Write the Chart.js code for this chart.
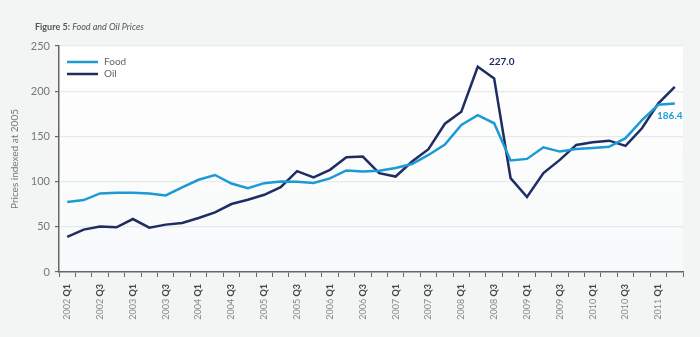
<!DOCTYPE html>
<html>
<head>
<meta charset="utf-8">
<script src="https://cdn.jsdelivr.net/npm/chart.js@4.4.0/dist/chart.umd.min.js"></script>
<style>
html, body { margin: 0; padding: 0; background: #f3f4f4; }
</style>
</head>
<body>
<canvas id="grafico" width="700" height="337"></canvas>
<script>
// Dados (índice 2005 = 100)
const trimestres = [
    '2002 Q1', '2002 Q2', '2002 Q3', '2002 Q4',
    '2003 Q1', '2003 Q2', '2003 Q3', '2003 Q4',
    '2004 Q1', '2004 Q2', '2004 Q3', '2004 Q4',
    '2005 Q1', '2005 Q2', '2005 Q3', '2005 Q4',
    '2006 Q1', '2006 Q2', '2006 Q3', '2006 Q4',
    '2007 Q1', '2007 Q2', '2007 Q3', '2007 Q4',
    '2008 Q1', '2008 Q2', '2008 Q3', '2008 Q4',
    '2009 Q1', '2009 Q2', '2009 Q3', '2009 Q4',
    '2010 Q1', '2010 Q2', '2010 Q3', '2010 Q4',
    '2011 Q1', '2011 Q2'
];
const food = [
    77.4, 79.6, 86.9, 87.6, 87.6, 86.9, 84.7, 93.5,
    102, 107.3, 97.9, 92.8, 98.3, 100.1, 99.8, 98.5,
    103.5, 112.3, 111.2, 112, 115, 119.5, 129.5, 141,
    162.6, 173.5, 164.5, 123.3, 125.1, 138, 133.2, 136,
    137.3, 138.5, 148, 168, 185, 186.4
];
const oil = [
    38.8, 46.9, 50.2, 49.4, 58.6, 49.1, 52.4, 54.2,
    59.7, 65.9, 75.2, 79.9, 85.4, 93.9, 111.5, 104.7,
    113, 127, 127.7, 109.4, 105.6, 122.2, 135.8, 164,
    177.3, 227, 214.1, 103.9, 82.9, 109.4, 124, 140.6,
    143.5, 145.3, 139.5, 159, 186.5, 204.9
];
const yMin = 0;
const yMax = 250;
const yPasso = 50;

const corFood = '#1c9ad6';
const corOil = '#1f2d62';
const fonte = 'Lato, "Open Sans", sans-serif';

// Fundo da página e da área do gráfico
const fundo = {
    id: 'fundo',
    beforeDraw(chart) {
        const { ctx, chartArea: a } = chart;
        ctx.save();
        ctx.fillStyle = '#f3f4f4';
        ctx.fillRect(0, 0, chart.width, chart.height);
        const g = ctx.createLinearGradient(0, a.top, 0, a.bottom);
        g.addColorStop(0, '#ffffff');
        g.addColorStop(1, '#f8f9fa');
        ctx.fillStyle = g;
        ctx.fillRect(a.left, a.top, a.right - a.left, a.bottom - a.top);
        ctx.restore();
    }
};

// Título, legenda, rótulos do eixo X e valores destacados
const textos = {
    id: 'textos',
    afterDraw(chart) {
        const { ctx, chartArea: a } = chart;
        ctx.save();

        // título
        ctx.textBaseline = 'middle';
        ctx.textAlign = 'left';
        ctx.fillStyle = '#555';
        ctx.font = `bold 9px ${fonte}`;
        const t1 = 'Figure 5: ';
        ctx.fillText(t1, 35, 27);
        const w1 = ctx.measureText(t1).width;
        ctx.font = `italic 9px ${fonte}`;
        ctx.fillText('Food and Oil Prices', 35 + w1, 27);

        // legenda dentro da área do gráfico
        chart.data.datasets.forEach((ds, i) => {
            const y = a.top + 16 + i * 12;
            ctx.strokeStyle = ds.borderColor;
            ctx.lineWidth = 2.5;
            ctx.beginPath();
            ctx.moveTo(a.left + 8, y);
            ctx.lineTo(a.left + 39, y);
            ctx.stroke();
            ctx.fillStyle = '#666';
            ctx.font = `10px ${fonte}`;
            ctx.fillText(ds.label, a.left + 45, y);
        });

        // rótulos do eixo X (ano normal, trimestre em negrito)
        const xs = chart.scales.x;
        trimestres.forEach((t, i) => {
            if (i % 2) return;
            const [ano, q] = t.split(' ');
            ctx.save();
            ctx.translate(xs.getPixelForValue(i), a.bottom + 12);
            ctx.rotate(-Math.PI / 2);
            ctx.textAlign = 'right';
            ctx.font = `bold 9px ${fonte}`;
            ctx.fillStyle = '#444';
            ctx.fillText(q, 0, 0);
            const wq = ctx.measureText(q).width;
            ctx.font = `9px ${fonte}`;
            ctx.fillStyle = '#888';
            ctx.fillText(ano + ' ', -wq, 0);
            ctx.restore();
        });

        // valores destacados
        ctx.textAlign = 'center';
        ctx.font = `bold 10px ${fonte}`;
        const iPico = oil.indexOf(Math.max(...oil));
        const pPico = chart.getDatasetMeta(1).data[iPico];
        ctx.fillStyle = corOil;
        ctx.fillText(oil[iPico].toFixed(1), pPico.x + 24, pPico.y - 5);
        const iFim = food.length - 1;
        const pFim = chart.getDatasetMeta(0).data[iFim];
        ctx.fillStyle = corFood;
        ctx.fillText(food[iFim].toFixed(1), pFim.x - 5, pFim.y + 12);

        ctx.restore();
    }
};

const ctxGrafico = document.getElementById('grafico').getContext('2d');
new Chart(ctxGrafico, {
    type: 'line',
    data: {
        labels: trimestres,
        datasets: [{
            label: 'Food',
            data: food,
            borderColor: corFood,
            borderWidth: 2.5,
            pointRadius: 0,
            tension: 0
        }, {
            label: 'Oil',
            data: oil,
            borderColor: corOil,
            borderWidth: 2.5,
            pointRadius: 0,
            tension: 0
        }]
    },
    options: {
        responsive: false,
        animation: false,
        devicePixelRatio: 1,
        layout: { padding: { top: 46, right: 17, left: 0, bottom: 0 } },
        plugins: {
            legend: { display: false },
            tooltip: { enabled: false }
        },
        scales: {
            x: {
                offset: true,
                afterFit(scale) { scale.height = 65; },
                grid: {
                    offset: true,
                    drawOnChartArea: false,
                    tickLength: 5,
                    tickColor: '#666',
                    tickWidth: 1
                },
                border: { color: '#666', width: 1.5 },
                ticks: {
                    autoSkip: false,
                    maxRotation: 90,
                    minRotation: 90,
                    color: 'rgba(0,0,0,0)',
                    font: { family: fonte, size: 9 },
                    callback: (v, i) => (i % 2 ? '' : trimestres[i])
                }
            },
            y: {
                min: yMin,
                max: yMax,
                afterFit(scale) { scale.width = 59; },
                grid: {
                    color: '#e8e9ea',
                    tickLength: 4,
                    tickColor: '#666',
                    lineWidth: 1.2
                },
                border: { color: '#666', width: 1.5 },
                ticks: {
                    stepSize: yPasso,
                    padding: 5,
                    color: '#777',
                    font: { family: fonte, size: 11 }
                },
                title: {
                    display: true,
                    text: 'Prices indexed at 2005',
                    color: '#777',
                    font: { family: fonte, size: 10 },
                    padding: { top: 9, bottom: 0 }
                }
            }
        }
    },
    plugins: [fundo, textos]
});
</script>
</body>
</html>
